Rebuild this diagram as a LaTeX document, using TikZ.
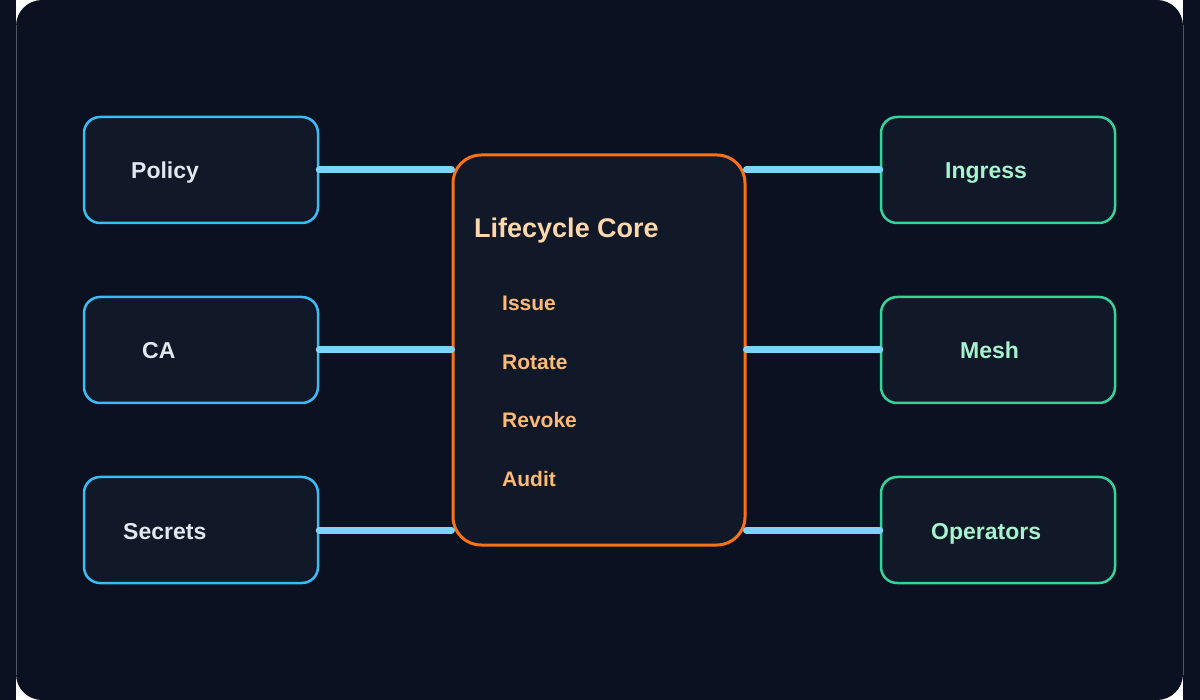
\documentclass[tikz,border=0pt]{standalone}
\usepackage{fontspec}
\setmainfont{Liberation Sans}
\usetikzlibrary{positioning}
\definecolor{pagebg}{HTML}{0B1120}
\definecolor{rimgray}{HTML}{4B5563}
\definecolor{boxfill}{HTML}{111827}
\definecolor{skyedge}{HTML}{38BDF8}
\definecolor{mintedge}{HTML}{34D399}
\definecolor{coreedge}{HTML}{F97316}
\definecolor{linkblue}{HTML}{7DD3FC}
\definecolor{srctext}{HTML}{E2E8F0}
\definecolor{dsttext}{HTML}{A7F3D0}
\definecolor{titletext}{HTML}{FED7AA}
\definecolor{steptext}{HTML}{FDBA74}
\tikzset{
  srcbox/.style={
    draw=skyedge,
    fill=boxfill,
    rectangle,
    rounded corners=16pt,
    minimum width=234pt,
    minimum height=106pt,
    line width=2.5pt
  },
  dstbox/.style={srcbox, draw=mintedge},
  corebox/.style={
    draw=coreedge,
    fill=boxfill,
    rectangle,
    rounded corners=28pt,
    minimum width=292pt,
    minimum height=390pt,
    line width=3pt
  },
  link/.style={draw=linkblue, line width=7pt, line cap=round},
  srclabel/.style={anchor=base west, inner sep=0pt, text=srctext,
    font=\bfseries\fontsize{23}{27}\selectfont},
  dstlabel/.style={srclabel, text=dsttext},
  titlelabel/.style={anchor=base west, inner sep=0pt, text=titletext,
    font=\bfseries\fontsize{27}{31}\selectfont},
  steplabel/.style={anchor=base west, inner sep=0pt, text=steptext,
    font=\bfseries\fontsize{21}{25}\selectfont}
}
\begin{document}
\begin{tikzpicture}[x=1pt, y=-1pt]
  \useasboundingbox (0,0) rectangle (1200,700);
  % card background
  \fill[white] (16,0) rectangle (1183,700);
  \fill[pagebg, rounded corners=26pt] (16,0) rectangle (1183,700);
  \fill[pagebg] (0,0) rectangle (16,700);
  \fill[pagebg] (1183,0) rectangle (1200,700);
  \draw[rimgray, line width=0.8pt] (16,25) -- (16,675);
  \draw[rimgray, line width=0.8pt] (1183,25) -- (1183,675);

  % sources
  \node[srcbox] (policy) at (201,170) {};
  \node[srcbox] (ca) at (201,350) {};
  \node[srcbox] (secrets) at (201,530) {};
  \node[srclabel] (policytxt) at (131,179) {Policy};
  \node[srclabel] (catxt) at (142,359) {CA};
  \node[srclabel] (secretstxt) at (123,539) {Secrets};

  % core
  \node[corebox] (core) at (599,350) {};
  \node[titlelabel] (coretitle) at (474,238) {Lifecycle Core};
  \node[steplabel] (issue) at (502,311) {Issue};
  \node[steplabel] (rotate) at (502,369.5) {Rotate};
  \node[steplabel] (revoke) at (502,427.5) {Revoke};
  \node[steplabel] (audit) at (502,486) {Audit};

  % consumers
  \node[dstbox] (ingress) at (998,170) {};
  \node[dstbox] (mesh) at (998,350) {};
  \node[dstbox] (operators) at (998,530) {};
  \node[dstlabel] (ingresstxt) at (945,179) {Ingress};
  \node[dstlabel] (meshtxt) at (960,359) {Mesh};
  \node[dstlabel] (operatorstxt) at (931,539) {Operators};

  % links
  \draw[link] (policy.east) -- (core.west |- policy.east);
  \draw[link] (ca.east) -- (core.west |- ca.east);
  \draw[link] (secrets.east) -- (core.west |- secrets.east);
  \draw[link] (core.east |- ingress.west) -- (ingress.west);
  \draw[link] (core.east |- mesh.west) -- (mesh.west);
  \draw[link] (core.east |- operators.west) -- (operators.west);
\end{tikzpicture}
\end{document}
